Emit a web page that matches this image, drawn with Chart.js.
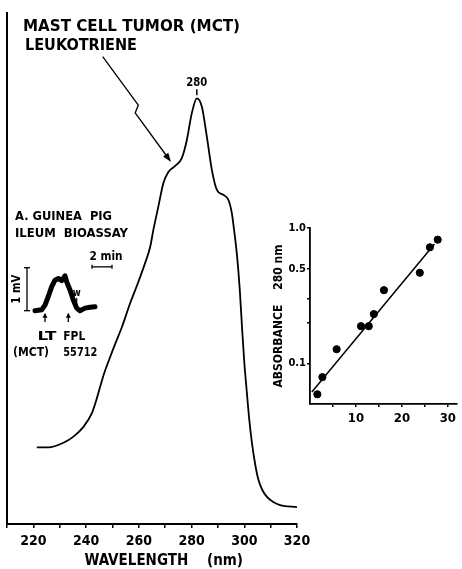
<!DOCTYPE html>
<html><head><meta charset="utf-8">
<script src="https://cdn.jsdelivr.net/npm/chart.js@4/dist/chart.umd.min.js"></script>
<style>
html,body{margin:0;padding:0;background:#fff;}
#wrap{position:relative;width:462px;height:569px;overflow:hidden;}
#wrap canvas{position:absolute;left:0;top:0;}
</style></head><body>
<div id="wrap">
<canvas id="main" width="462" height="569"></canvas>
<canvas id="insetA" width="462" height="569"></canvas>
<canvas id="insetB" width="462" height="569"></canvas>
</div>
<script>
// ---------- data ----------
// Main UV spectrum
const wavelengthNm = [221.3, 225.7, 231.4, 235.2, 239.0, 242.2, 243.8, 245.3, 246.8, 248.7, 251.0, 253.7, 256.7, 259.7, 262.4, 264.3, 265.5, 267.4, 269.3, 271.2, 273.8, 276.3, 278.2, 280.1, 282.0, 283.9, 285.8, 287.7, 289.6, 292.1, 294.0, 295.3, 295.9, 297.2, 298.3, 299.2, 300.0, 301.0, 301.9, 302.9, 304.2, 305.4, 306.8, 308.6, 311.0, 313.6, 320.0];
const absorbance   = [0.150, 0.150, 0.159, 0.171, 0.190, 0.217, 0.241, 0.268, 0.294, 0.321, 0.352, 0.387, 0.432, 0.472, 0.511, 0.542, 0.575, 0.621, 0.667, 0.689, 0.701, 0.716, 0.751, 0.804, 0.833, 0.817, 0.758, 0.693, 0.654, 0.644, 0.634, 0.608, 0.585, 0.528, 0.458, 0.380, 0.317, 0.256, 0.204, 0.159, 0.115, 0.086, 0.067, 0.053, 0.043, 0.037, 0.033];
const mainXTicks  = [210, 220, 230, 240, 250, 260, 270, 280, 290, 300, 310, 320];
const mainXLabels = [220, 240, 260, 280, 300, 320];
const peakLabel = '280';

// Inset A: guinea pig ileum bioassay trace
const traceMin = [0, 0.67, 1.0, 1.33, 1.67, 2.0, 2.33, 2.67, 3.0, 3.17, 3.5, 3.83, 4.17, 4.5, 5.0, 5.5, 6.0];
const traceMv  = [0, 0.02, 0.13, 0.33, 0.56, 0.71, 0.75, 0.70, 0.81, 0.67, 0.48, 0.25, 0.06, 0.0, 0.06, 0.08, 0.09];
const ltTimeMin = 1.0;
const fplTimeMin = 3.33;
const washTimeMin = 4.17;

// Inset B: biological activity vs UV absorption
const srsResponseMv = [1.6, 2.7, 5.8, 11.1, 12.8, 13.9, 16.1, 23.9, 26.1, 27.8];
const absorbance280 = [0.059, 0.079, 0.127, 0.188, 0.188, 0.231, 0.347, 0.467, 0.72, 0.82];
const fitX = [0.4, 27.1];
const fitY = [0.0613, 0.761];
const bXTicks  = [5, 10, 15, 20, 25, 30];
const bXLabels = [10, 20, 30];
const bYTicks  = [0.1, 0.2, 0.3, 0.5, 1.0];
const bYLabels = {'0.1':'0.1', '0.5':'0.5', '1':'1.0'};

// ---------- helpers ----------
const FONT = "'DejaVu Sans Condensed', 'DejaVu Sans', sans-serif";
function label(ctx, text, x, y, size, width, align, rot){
  ctx.save();
  ctx.font = 'bold ' + size + 'px ' + FONT;
  ctx.fillStyle = '#000';
  ctx.textBaseline = 'middle';
  ctx.textAlign = align || 'center';
  ctx.translate(x, y);
  if (rot) ctx.rotate(rot);
  if (width) { const w = ctx.measureText(text).width; ctx.scale(width / w, 1); }
  ctx.fillText(text, 0, 0);
  ctx.restore();
}
function seg(ctx, pts, w){
  ctx.beginPath();
  ctx.moveTo(pts[0][0], pts[0][1]);
  for (let i = 1; i < pts.length; i++) ctx.lineTo(pts[i][0], pts[i][1]);
  ctx.lineWidth = w || 1.5; ctx.strokeStyle = '#000'; ctx.stroke();
}
function arrowHead(ctx, x0, y0, x1, y1, len, half){
  const a = Math.atan2(y1 - y0, x1 - x0);
  ctx.beginPath();
  ctx.moveTo(x1, y1);
  ctx.lineTo(x1 - len*Math.cos(a) + half*Math.sin(a), y1 - len*Math.sin(a) - half*Math.cos(a));
  ctx.lineTo(x1 - len*Math.cos(a) - half*Math.sin(a), y1 - len*Math.sin(a) + half*Math.cos(a));
  ctx.closePath(); ctx.fillStyle = '#000'; ctx.fill();
}
const base = {responsive:false, animation:false, devicePixelRatio:1,
  plugins:{legend:{display:false}, tooltip:{enabled:false}}};

// ---------- main chart ----------
const mainNotes = {
  id:'mainNotes',
  afterDraw(chart){
    const {ctx, scales:{x, y}} = chart;
    label(ctx, 'MAST CELL TUMOR (MCT)', 23, 27, 16, 217, 'left');
    label(ctx, 'LEUKOTRIENE', 25, 46, 16, 112, 'left');
    const iMax = absorbance.indexOf(Math.max(...absorbance));
    const px = x.getPixelForValue(wavelengthNm[iMax]);
    const py = y.getPixelForValue(absorbance[iMax]);
    label(ctx, peakLabel, px, py - 15, 12, 21);
    seg(ctx, [[px, py - 9], [px, py - 3]], 1.5);
    // lightning arrow
    seg(ctx, [[102.7, 56.7], [138.3, 105], [135.2, 113], [168.5, 158.5]], 1.3);
    arrowHead(ctx, 135.2, 113, 171, 162, 9, 3.2);
  }
};
new Chart(document.getElementById('main'), {
  type:'line',
  data:{datasets:[{data: wavelengthNm.map((v, i) => ({x:v, y:absorbance[i]})),
    borderColor:'#000', borderWidth:1.8, pointRadius:0, cubicInterpolationMode:'monotone', fill:false}]},
  options:Object.assign({}, base, {
    layout:{padding:{left:7, top:13, right:165, bottom:0}},
    scales:{
      x:{type:'linear', min:210, max:320,
        afterBuildTicks: s => { s.ticks = mainXTicks.map(v => ({value:v})); },
        ticks:{callback: v => mainXLabels.includes(v) ? String(v) : '', autoSkip:false, maxRotation:0,
          font:{family:FONT, size:14, weight:'bold'}, color:'#000', padding:5},
        grid:{drawOnChartArea:false, drawTicks:true, tickLength:4, color:'#000', lineWidth:1.5},
        border:{display:true, color:'#000', width:2},
        title:{display:true, text:'     WAVELENGTH    (nm)', color:'#000', padding:0,
          font:{family:FONT, size:15, weight:'bold', lineHeight:1}},
        afterFit: s => { s.height = 45; }
      },
      y:{type:'linear', min:0, max:1,
        ticks:{display:false},
        grid:{display:true, drawOnChartArea:false, drawTicks:false},
        border:{display:true, color:'#000', width:2},
        afterFit: s => { s.width = 0; }
      }
    }
  }),
  plugins:[mainNotes]
});

// ---------- inset A ----------
const aNotes = {
  id:'aNotes',
  afterDraw(chart){
    const {ctx, scales:{x, y}} = chart;
    label(ctx, 'A. GUINEA  PIG', 15, 217, 13, 97, 'left');
    label(ctx, 'ILEUM  BIOASSAY', 15, 234, 13, 113, 'left');
    // 2 min bar
    const bx0 = x.getPixelForValue(5.7), bx1 = x.getPixelForValue(7.7), by = y.getPixelForValue(1.02);
    seg(ctx, [[bx0, by], [bx1, by]], 1.3);
    seg(ctx, [[bx0, by - 2], [bx0, by + 2]], 1.3);
    seg(ctx, [[bx1, by - 2], [bx1, by + 2]], 1.3);
    label(ctx, '2 min', (bx0 + bx1) / 2 + 4, by - 10, 13, 33);
    // 1 mV bar
    const vx = x.getPixelForValue(-0.8), vy0 = y.getPixelForValue(0), vy1 = y.getPixelForValue(1);
    seg(ctx, [[vx, vy0], [vx, vy1]], 1.3);
    seg(ctx, [[vx - 3, vy0], [vx + 3, vy0]], 1.3);
    seg(ctx, [[vx - 3, vy1], [vx + 3, vy1]], 1.3);
    label(ctx, '1 mV', vx - 10, (vy0 + vy1) / 2, 13, 29, 'center', -Math.PI / 2);
    // arrows
    const ay0 = y.getPixelForValue(-0.26), ay1 = y.getPixelForValue(-0.05);
    [ltTimeMin, fplTimeMin].forEach(t => {
      const ax = x.getPixelForValue(t);
      seg(ctx, [[ax, ay0], [ax, ay1 + 3]], 1.3);
      arrowHead(ctx, ax, ay0, ax, ay1, 5, 2.5);
    });
    const lx = x.getPixelForValue(ltTimeMin), fx = x.getPixelForValue(fplTimeMin);
    label(ctx, 'LT', lx + 2, 337, 13, 19);
    label(ctx, '(MCT)', lx - 14, 353, 13, 36);
    label(ctx, 'FPL', fx + 6, 337, 13, 22);
    label(ctx, '55712', fx + 12, 353, 13, 34);
    // wash mark
    const wx = x.getPixelForValue(washTimeMin), wy = y.getPixelForValue(0.41);
    label(ctx, 'w', wx, wy, 11, 8);
    seg(ctx, [[wx, wy + 5], [wx, wy + 12]], 1.2);
  }
};
new Chart(document.getElementById('insetA'), {
  type:'line',
  data:{datasets:[{data: traceMin.map((v, i) => ({x:v, y:traceMv[i]})),
    borderColor:'#000', borderWidth:5, pointRadius:0, tension:0, fill:false, borderJoinStyle:'round', borderCapStyle:'round'}]},
  options:Object.assign({}, base, {
    layout:{padding:{left:25, top:267.7, right:357, bottom:236.8}},
    scales:{
      x:{type:'linear', min:-1, max:7, display:false},
      y:{type:'linear', min:-0.5, max:1.0, display:false}
    }
  }),
  plugins:[aNotes]
});

// ---------- inset B ----------
const bNotes = {
  id:'bNotes',
  afterDraw(chart){
    const {ctx} = chart;
    label(ctx, 'B.', 291, 209, 12, 9, 'left');
    label(ctx, 'BIOLOGICAL  ACTIVITY', 318, 209, 12, 143, 'left');
    label(ctx, 'VS. UV  ABSORPTION', 318, 226, 12, 132, 'left');
    label(ctx, 'SRS  RESPONSE (mV)', 366, 433, 14, 152);
    label(ctx, 'FROM 1 \u00B5l', 366, 450, 14, 70);
    label(ctx, 'r', 408, 338, 13, 5);
    label(ctx, '2', 413.5, 334, 10, 6);
    label(ctx, '= 0.97', 418, 337.5, 13, 35, 'left');
  }
};
new Chart(document.getElementById('insetB'), {
  type:'scatter',
  data:{datasets:[
    {data: srsResponseMv.map((v, i) => ({x:v, y:absorbance280[i]})),
      pointRadius:3.6, pointBackgroundColor:'#000', pointBorderColor:'#000', showLine:false},
    {type:'line', data: fitX.map((v, i) => ({x:v, y:fitY[i]})), borderColor:'#000', borderWidth:1.5,
      pointRadius:0, fill:false}
  ]},
  options:Object.assign({}, base, {
    layout:{padding:{left:272, top:228, right:2.6, bottom:135}},
    scales:{
      x:{type:'linear', min:0, max:32,
        afterBuildTicks: s => { s.ticks = bXTicks.map(v => ({value:v})); },
        ticks:{callback: v => bXLabels.includes(v) ? String(v) : '', autoSkip:false, maxRotation:0,
          font:{family:FONT, size:13, weight:'bold'}, color:'#000', padding:4},
        grid:{drawOnChartArea:false, drawTicks:true, tickLength:3, color:'#000', lineWidth:1.5},
        border:{display:true, color:'#000', width:1.8},
        afterFit: s => { s.height = 30; }
      },
      y:{type:'logarithmic', min:0.05, max:1.0,
        afterBuildTicks: s => { s.ticks = bYTicks.map(v => ({value:v})); },
        ticks:{callback: v => bYLabels[String(+v.toFixed(3))] || '', autoSkip:false,
          font:{family:FONT, size:11, weight:'bold'}, color:'#000', padding:1},
        grid:{drawOnChartArea:false, drawTicks:true, tickLength:3, color:'#000', lineWidth:1.5},
        border:{display:true, color:'#000', width:1.8},
        title:{display:true, text:'ABSORBANCE    280 nm', color:'#000', padding:{top:0, bottom:0},
          font:{family:FONT, size:12, weight:'bold', lineHeight:1.2}},
        afterFit: s => { s.width = 38; }
      }
    }
  })
});
</script>
</body></html>
